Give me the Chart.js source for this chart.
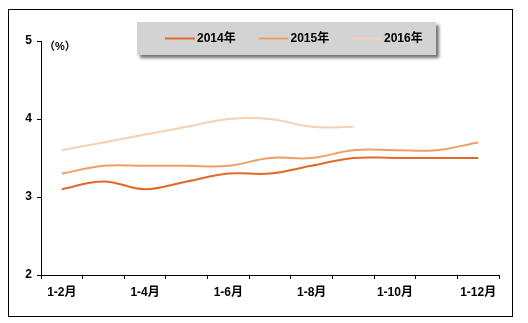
<!DOCTYPE html>
<html>
<head>
<meta charset="utf-8">
<script src="https://cdn.jsdelivr.net/npm/chart.js@4.4.1/dist/chart.umd.min.js"></script>
<style>
  html, body { margin: 0; padding: 0; background: #fff; }
  #wrap { width: 528px; height: 323px; position: relative; }
</style>
</head>
<body>
<div id="wrap"><canvas id="chart" width="528" height="323"></canvas></div>
<script>
const months = ['1-2月', '1-3月', '1-4月', '1-5月', '1-6月', '1-7月', '1-8月', '1-9月', '1-10月', '1-11月', '1-12月']
const seriesNames = ['2014年', '2015年', '2016年']
const values2014 = [3.1, 3.2, 3.1, 3.2, 3.3, 3.3, 3.4, 3.5, 3.5, 3.5, 3.5]
const values2015 = [3.3, 3.4, 3.4, 3.4, 3.4, 3.5, 3.5, 3.6, 3.6, 3.6, 3.7]
const values2016 = [3.6, 3.7, 3.8, 3.9, 4.0, 4.0, 3.9, 3.9]
const yTicks = [2, 3, 4, 5]

const colors = ['#E2692A', '#F09E62', '#F8D0B0']
const fontFamily = '"Liberation Sans", "Noto Sans CJK SC", sans-serif'

// Frame, unit label and the grey legend box
const decorPlugin = {
    id: 'decor',
    afterDraw(chart) {
        const ctx = chart.ctx
        ctx.save()
        ctx.strokeStyle = '#000'
        ctx.lineWidth = 1
        ctx.strokeRect(8.5, 9.5, 504, 307)

        ctx.fillStyle = '#000'
        ctx.font = 'bold 11px ' + fontFamily
        ctx.textBaseline = 'middle'
        ctx.fillText('（%）', 44, 47)

        // legend box with shadow
        ctx.shadowColor = 'rgba(0,0,0,0.55)'
        ctx.shadowBlur = 3
        ctx.shadowOffsetX = 3
        ctx.shadowOffsetY = 3
        ctx.fillStyle = '#D3D3D3'
        ctx.fillRect(137, 22, 299, 33)
        ctx.shadowColor = 'transparent'

        chart.data.datasets.forEach((ds, i) => {
            let x = 165 + i * 93.5
            ctx.strokeStyle = ds.borderColor
            ctx.lineWidth = 2
            ctx.beginPath()
            ctx.moveTo(x, 38.5)
            ctx.lineTo(x + 30, 38.5)
            ctx.stroke()
            ctx.fillStyle = '#000'
            ctx.font = 'bold 12px ' + fontFamily
            ctx.textAlign = 'left'
            ctx.fillText(ds.label, x + 32, 38.5)
        })
        ctx.restore()
    }
}

const ctx = document.querySelector('#chart').getContext('2d')

new Chart(ctx, {
    type: 'line',
    data: {
        labels: months,
        datasets: [values2014, values2015, values2016].map((data, i) => ({
            label: seriesNames[i],
            data: data,
            borderColor: colors[i],
            backgroundColor: colors[i],
            borderWidth: 2,
            pointRadius: 0,
            tension: 0.4,
            fill: false
        }))
    },
    options: {
        responsive: false,
        animation: false,
        events: [],
        layout: { padding: { left: 8, right: 29, top: 41, bottom: 18 } },
        plugins: {
            legend: { display: false },
            tooltip: { enabled: false }
        },
        scales: {
            x: {
                offset: true,
                grid: { offset: true, drawOnChartArea: false, tickLength: 4, color: '#000' },
                border: { color: '#000', width: 1 },
                ticks: {
                    autoSkip: false,
                    maxRotation: 0,
                    padding: 6,
                    color: '#000',
                    font: { family: fontFamily, size: 12, weight: 'bold' },
                    callback: function (value, index) {
                        return index % 2 === 0 ? months[index] : ''
                    }
                },
                afterFit(scale) { scale.height = 30 }
            },
            y: {
                min: 2,
                max: 5,
                afterBuildTicks(scale) { scale.ticks = yTicks.map(v => ({ value: v })) },
                grid: { drawOnChartArea: false, tickLength: 4, color: '#000' },
                border: { color: '#000', width: 1 },
                ticks: {
                    padding: 5,
                    color: '#000',
                    font: { family: fontFamily, size: 12, weight: 'bold' }
                },
                afterFit(scale) { scale.width = 33 }
            }
        }
    },
    plugins: [decorPlugin]
})
</script>
</body>
</html>
